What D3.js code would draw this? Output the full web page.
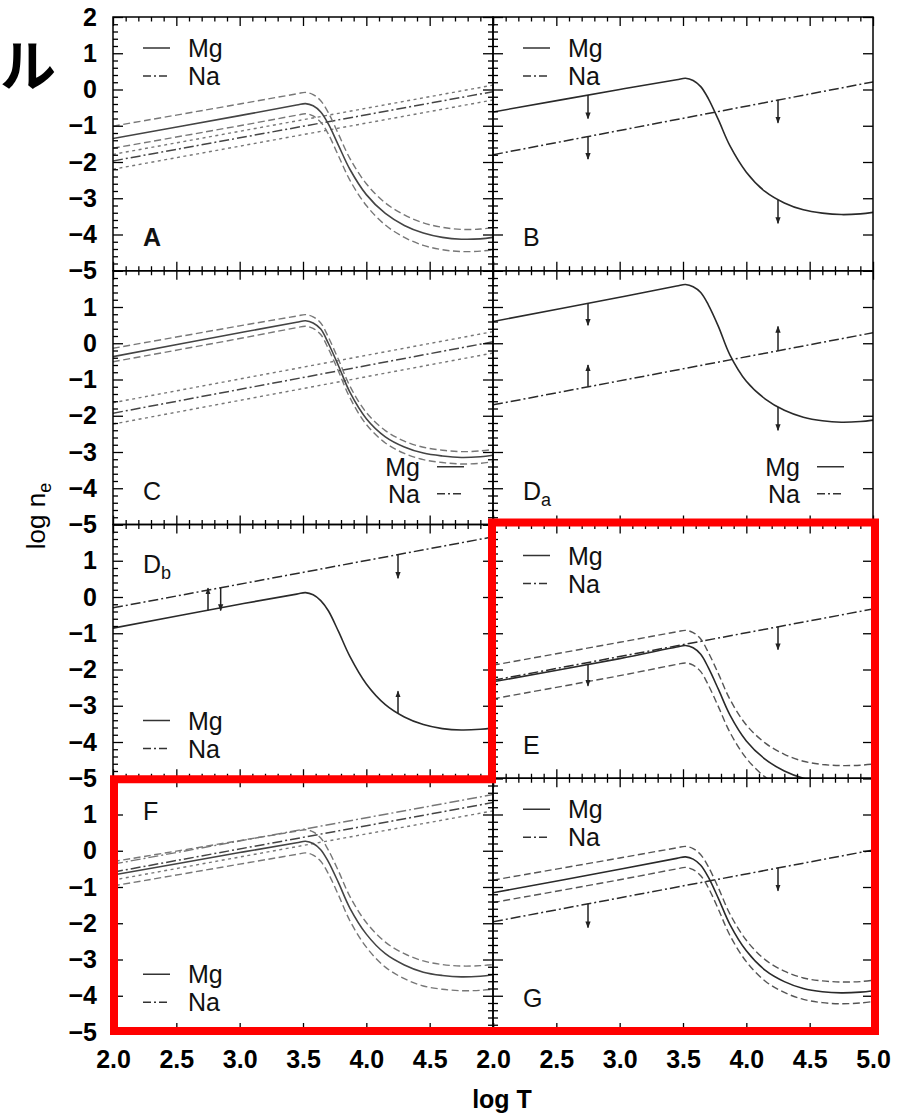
<!DOCTYPE html>
<html>
<head>
<meta charset="utf-8">
<script src="https://cdn.jsdelivr.net/npm/d3@7"></script>
<style>
  body { margin: 0; background: #fff; }
  svg { display: block; font-family: "Liberation Sans", Arial, sans-serif; }
</style>
</head>
<body>
<div id="chart"></div>
<script>
///////////////////////////
// DATA
///////////////////////////

// log T sample points shared by every Mg curve
const logT = [2.0, 3.0, 3.45, 3.52, 3.58, 3.64, 3.7, 3.78, 3.87, 4.0, 4.15, 4.3, 4.45, 4.6, 4.75, 4.9, 5.0];
// Na lines are straight, given at the two ends
const naT = [2.0, 5.0];

const xMajor = [2.0, 2.5, 3.0, 3.5, 4.0, 4.5, 5.0];
const yMajor = [-5, -4, -3, -2, -1, 0, 1, 2];
const xLabelsLeft = [2.0, 2.5, 3.0, 3.5, 4.0, 4.5];
const xLabelsRight = [2.0, 2.5, 3.0, 3.5, 4.0, 4.5, 5.0];
const yLabelsTop = [-5, -4, -3, -2, -1, 0, 1, 2];
const yLabels = [-5, -4, -3, -2, -1, 0, 1];

// panel A
const mgA   = [-1.35, -0.72, -0.43, -0.39, -0.45, -0.62, -0.95, -1.54, -2.2, -2.9, -3.42, -3.75, -3.96, -4.08, -4.13, -4.12, -4.08];
const mgAHi = [-1.01, -0.4, -0.12, -0.08, -0.14, -0.31, -0.64, -1.23, -1.9, -2.6, -3.13, -3.46, -3.68, -3.8, -3.86, -3.85, -3.81];
const mgALo = [-1.62, -1.0, -0.71, -0.67, -0.73, -0.9, -1.23, -1.83, -2.5, -3.2, -3.74, -4.08, -4.3, -4.42, -4.47, -4.46, -4.42];
const naA   = [-1.97, -0.06];
const naAHi = [-1.79, 0.12];
const naALo = [-2.2, -0.29];

// panel B
const mgB = [-0.62, 0.0, 0.27, 0.31, 0.25, 0.08, -0.25, -0.84, -1.55, -2.28, -2.82, -3.13, -3.32, -3.41, -3.45, -3.43, -3.39];
const naB = [-1.8, 0.21];
const arrowsB = [[2.75, -0.15, -0.8], [2.75, -1.3, -1.92], [4.25, -0.28, -0.92], [4.25, -3.05, -3.69]];

// panel C
const mgC   = [-0.37, 0.29, 0.58, 0.62, 0.56, 0.39, 0.0, -0.62, -1.35, -2.08, -2.58, -2.86, -3.03, -3.11, -3.15, -3.13, -3.09];
const mgCHi = [-0.14, 0.48, 0.75, 0.79, 0.73, 0.56, 0.17, -0.45, -1.18, -1.91, -2.41, -2.7, -2.87, -2.95, -2.99, -2.97, -2.93];
const mgCLo = [-0.51, 0.13, 0.43, 0.47, 0.41, 0.24, -0.15, -0.77, -1.5, -2.24, -2.75, -3.04, -3.21, -3.29, -3.33, -3.31, -3.27];
const naC   = [-1.93, 0.04];
const naCHi = [-1.64, 0.32];
const naCLo = [-2.23, -0.27];

// panel Da
const mgDa = [0.6, 1.27, 1.58, 1.62, 1.56, 1.4, 1.06, 0.46, -0.32, -1.05, -1.54, -1.85, -2.04, -2.14, -2.18, -2.16, -2.12];
const naDa = [-1.7, 0.29];
const arrowsDa = [[2.75, 1.1, 0.5], [2.75, -1.2, -0.6], [4.25, -0.21, 0.46], [4.25, -1.76, -2.4]];

// panel Db
const mgDb = [-0.86, -0.2, 0.08, 0.12, 0.06, -0.1, -0.38, -0.95, -1.64, -2.4, -2.97, -3.31, -3.52, -3.63, -3.67, -3.65, -3.61];
const naDb = [-0.3, 1.66];
const arrowsDb = [[2.75, -0.37, 0.24], [2.85, 0.25, -0.37], [4.25, 1.17, 0.52], [4.25, -3.2, -2.6]];

// panel E
const mgE   = [-2.34, -1.7, -1.38, -1.34, -1.4, -1.58, -1.95, -2.55, -3.25, -3.97, -4.48, -4.8, -5.0, -5.1, -5.14, -5.12, -5.08];
const mgEHi = [-1.88, -1.25, -0.96, -0.92, -0.98, -1.16, -1.53, -2.12, -2.82, -3.53, -4.03, -4.34, -4.53, -4.62, -4.65, -4.64, -4.61];
const mgELo = [-2.81, -2.17, -1.86, -1.82, -1.88, -2.06, -2.43, -3.03, -3.73, -4.45, -4.97, -5.28, -5.48, -5.58, -5.62, -5.6, -5.56];
const naE = [-2.3, -0.33];
const arrowsE = [[2.75, -1.85, -2.45], [4.25, -0.82, -1.45]];

// panel F
const mgF   = [-0.67, -0.05, 0.22, 0.26, 0.2, 0.03, -0.3, -0.88, -1.58, -2.3, -2.84, -3.15, -3.35, -3.44, -3.48, -3.46, -3.42];
const mgFHi = [-0.3, 0.28, 0.54, 0.58, 0.52, 0.35, 0.02, -0.56, -1.26, -1.98, -2.52, -2.84, -3.04, -3.14, -3.18, -3.17, -3.14];
const mgFLo = [-0.97, -0.37, -0.1, -0.06, -0.12, -0.29, -0.63, -1.22, -1.93, -2.66, -3.21, -3.53, -3.73, -3.82, -3.86, -3.85, -3.82];
const naF   = [-0.59, 1.33];
const naFHi = [-0.37, 1.55];
const naFLo = [-0.81, 1.10];

// panel G
const mgG   = [-1.16, -0.51, -0.21, -0.17, -0.23, -0.4, -0.73, -1.32, -2.03, -2.76, -3.3, -3.61, -3.8, -3.89, -3.92, -3.9, -3.86];
const mgGHi = [-0.81, -0.2, 0.08, 0.12, 0.06, -0.11, -0.44, -1.03, -1.74, -2.47, -3.01, -3.32, -3.51, -3.59, -3.62, -3.61, -3.57];
const mgGLo = [-1.43, -0.8, -0.5, -0.46, -0.52, -0.69, -1.02, -1.62, -2.33, -3.06, -3.6, -3.91, -4.1, -4.19, -4.22, -4.2, -4.16];
const naG = [-1.96, 0.02];
const arrowsG = [[2.75, -1.46, -2.12], [4.25, -0.47, -1.1]];

const panels = [
    { label: 'A', sub: '', row: 0, col: 0, mg: mgA, mgHi: mgAHi, mgLo: mgALo, na: naA, naHi: naAHi, naLo: naALo, naHiStyle: 'dotted', arrows: [], legend: 'tl', labelAt: 'bottom', bold: true, light: true },
    { label: 'B', sub: '', row: 0, col: 1, mg: mgB, na: naB, arrows: arrowsB, legend: 'tl', labelAt: 'bottom' },
    { label: 'C', sub: '', row: 1, col: 0, mg: mgC, mgHi: mgCHi, mgLo: mgCLo, na: naC, naHi: naCHi, naLo: naCLo, naHiStyle: 'dotted', arrows: [], legend: 'br', labelAt: 'bottom', light: true },
    { label: 'D', sub: 'a', row: 1, col: 1, mg: mgDa, na: naDa, arrows: arrowsDa, legend: 'br', labelAt: 'bottom' },
    { label: 'D', sub: 'b', row: 2, col: 0, mg: mgDb, na: naDb, arrows: arrowsDb, legend: 'bl', labelAt: 'top' },
    { label: 'E', sub: '', row: 2, col: 1, mg: mgE, mgHi: mgEHi, mgLo: mgELo, na: naE, arrows: arrowsE, legend: 'tl', labelAt: 'bottom' },
    { label: 'F', sub: '', row: 3, col: 0, mg: mgF, mgHi: mgFHi, mgLo: mgFLo, na: naF, naHi: naFHi, naLo: naFLo, naHiStyle: 'dashdot', arrows: [], legend: 'bl', labelAt: 'top', light: true },
    { label: 'G', sub: '', row: 3, col: 1, mg: mgG, mgHi: mgGHi, mgLo: mgGLo, na: naG, arrows: arrowsG, legend: 'tl', labelAt: 'bottom' }
];

///////////////////////////
// LAYOUT
///////////////////////////

const left0 = 113;
const top0 = 17;
const pw = 380;
const ph = 253.75;

const dashes = {
    solid: null,
    dashed: '7,3.5',
    dashdot: '10,3,2,3',
    dotted: '3,3.5'
};

const xMinor = d3.range(20, 51).map(d => d / 10).filter(d => Math.round(d * 10) % 5 !== 0);
const yMinor = d3.range(-25, 11).map(d => d / 5).filter(d => Math.round(d * 5) % 5 !== 0);

let svg = d3.select('#chart')
    .append('svg')
    .attr('width', 910)
    .attr('height', 1115);

svg.append('rect').attr('width', 910).attr('height', 1115).attr('fill', '#fff');

svg.append('defs').append('marker')
    .attr('id', 'head')
    .attr('markerUnits', 'userSpaceOnUse')
    .attr('viewBox', '0 0 8 8')
    .attr('refX', 7).attr('refY', 4)
    .attr('markerWidth', 7).attr('markerHeight', 7)
    .attr('orient', 'auto')
    .append('path')
    .attr('d', 'M0,1 L8,4 L0,7 z')
    .attr('fill', '#222');

const cleanAxis = (sel) => {
    sel.select('.domain').remove();
    sel.selectAll('line').attr('stroke', '#000').attr('stroke-width', 1.3);
};

panels.forEach((p, i) => {
    const x0 = left0 + p.col * pw;
    const y0 = top0 + p.row * ph;
    const x = d3.scaleLinear().domain([2, 5]).range([x0, x0 + pw]);
    const y = d3.scaleLinear().domain([-5, 2]).range([y0 + ph, y0]);

    let g = svg.append('g').attr('class', 'panel');

    g.append('clipPath').attr('id', `clip${i}`)
        .append('rect')
        .attr('x', x0).attr('y', y0).attr('width', pw).attr('height', ph);

    let plot = g.append('g').attr('clip-path', `url(#clip${i})`);

    const line = d3.line()
        .x(d => x(d[0]))
        .y(d => y(d[1]))
        .curve(d3.curveCatmullRom.alpha(0.5));

    const draw = (ts, vals, style, color, width) => {
        if (!vals) return;
        plot.append('path')
            .datum(ts.map((t, k) => [t, vals[k]]))
            .attr('d', line)
            .attr('fill', 'none')
            .attr('stroke', color)
            .attr('stroke-width', width)
            .attr('stroke-dasharray', dashes[style]);
    };

    const mainCol = p.light ? '#444' : '#2a2a2a';
    const bandCol = p.light ? '#777' : '#555';

    // Na lines
    draw(naT, p.naHi, p.naHiStyle || 'dotted', bandCol, 1.4);
    draw(naT, p.naLo, 'dotted', bandCol, 1.4);
    draw(naT, p.na, 'dashdot', mainCol, 1.5);
    // Mg curves
    draw(logT, p.mgHi, 'dashed', bandCol, 1.4);
    draw(logT, p.mgLo, 'dashed', bandCol, 1.4);
    draw(logT, p.mg, 'solid', mainCol, 1.6);

    // arrows
    plot.selectAll('.arrow')
        .data(p.arrows)
        .enter().append('line')
        .attr('class', 'arrow')
        .attr('x1', d => x(d[0]))
        .attr('x2', d => x(d[0]))
        .attr('y1', d => y(d[1]))
        .attr('y2', d => y(d[2]))
        .attr('stroke', '#222')
        .attr('stroke-width', 1.5)
        .attr('marker-end', 'url(#head)');

    // frame
    g.append('rect')
        .attr('x', x0).attr('y', y0).attr('width', pw).attr('height', ph)
        .attr('fill', 'none')
        .attr('stroke', '#000')
        .attr('stroke-width', 1.5);

    // ticks, all pointing inward
    g.append('g').attr('transform', `translate(0,${y0 + ph})`)
        .call(d3.axisBottom(x).tickValues(xMajor).tickSize(-9).tickSizeOuter(0).tickFormat(''))
        .call(cleanAxis);
    g.append('g').attr('transform', `translate(0,${y0 + ph})`)
        .call(d3.axisBottom(x).tickValues(xMinor).tickSize(-4.5).tickSizeOuter(0).tickFormat(''))
        .call(cleanAxis);
    g.append('g').attr('transform', `translate(0,${y0})`)
        .call(d3.axisTop(x).tickValues(xMajor).tickSize(-9).tickSizeOuter(0).tickFormat(''))
        .call(cleanAxis);
    g.append('g').attr('transform', `translate(0,${y0})`)
        .call(d3.axisTop(x).tickValues(xMinor).tickSize(-4.5).tickSizeOuter(0).tickFormat(''))
        .call(cleanAxis);
    g.append('g').attr('transform', `translate(${x0},0)`)
        .call(d3.axisLeft(y).tickValues(yMajor).tickSize(-10).tickSizeOuter(0).tickFormat(''))
        .call(cleanAxis);
    g.append('g').attr('transform', `translate(${x0},0)`)
        .call(d3.axisLeft(y).tickValues(yMinor).tickSize(-5).tickSizeOuter(0).tickFormat(''))
        .call(cleanAxis);
    g.append('g').attr('transform', `translate(${x0 + pw},0)`)
        .call(d3.axisRight(y).tickValues(yMajor).tickSize(-10).tickSizeOuter(0).tickFormat(''))
        .call(cleanAxis);
    if (p.col === 0) {
        g.append('g').attr('transform', `translate(${x0 + pw},0)`)
            .call(d3.axisRight(y).tickValues(yMinor).tickSize(-5).tickSizeOuter(0).tickFormat(''))
            .call(cleanAxis);
    }

    // tick labels
    if (p.col === 0) {
        g.append('g').attr('transform', `translate(${x0},0)`)
            .call(d3.axisLeft(y).tickValues(p.row === 0 ? yLabelsTop : yLabels).tickSize(0).tickPadding(16).tickFormat(d3.format('d')))
            .call(s => s.select('.domain').remove())
            .attr('font-family', null)
            .attr('font-size', 25)
            .attr('font-weight', 'bold')
            .selectAll('text').attr('fill', '#000');
    }
    if (p.row === 3) {
        g.append('g').attr('transform', `translate(0,${y0 + ph})`)
            .call(d3.axisBottom(x).tickValues(p.col === 0 ? xLabelsLeft : xLabelsRight).tickSize(0).tickPadding(18).tickFormat(d3.format('.1f')))
            .call(s => s.select('.domain').remove())
            .attr('font-family', null)
            .attr('font-size', 25)
            .attr('font-weight', 'bold')
            .selectAll('text').attr('fill', '#000');
    }

    // panel letter
    let lab = g.append('text')
        .attr('x', x0 + 30)
        .attr('y', p.labelAt === 'top' ? y0 + (p.sub ? 48 : 42) : y0 + 229)
        .attr('font-size', 25)
        .attr('font-weight', p.bold ? 'bold' : 'normal')
        .attr('fill', '#111')
        .text(p.label);
    if (p.sub) {
        lab.append('tspan')
            .attr('font-size', 18)
            .attr('dy', 6)
            .text(p.sub);
    }

    // legend
    let lg = g.append('g').attr('class', 'legend');
    let items = [['Mg', 'solid'], ['Na', 'dashdot']];
    items.forEach((it, k) => {
        let ly, sx1, sx2, tx, anchor;
        if (p.legend === 'tl') { ly = y0 + 31 + k * 28; sx1 = x0 + 30; sx2 = x0 + 57; tx = x0 + 75; anchor = 'start'; }
        if (p.legend === 'bl') { ly = y0 + 196 + k * 28; sx1 = x0 + 30; sx2 = x0 + 57; tx = x0 + 75; anchor = 'start'; }
        if (p.legend === 'br') { ly = y0 + 196 + k * 27; sx1 = x0 + 324; sx2 = x0 + 351; tx = x0 + 307; anchor = 'end'; }
        lg.append('line')
            .attr('x1', sx1).attr('x2', sx2)
            .attr('y1', ly).attr('y2', ly)
            .attr('stroke', '#333')
            .attr('stroke-width', 1.5)
            .attr('stroke-dasharray', it[1] === 'dashdot' ? '8,3,2,3' : null);
        lg.append('text')
            .attr('x', tx)
            .attr('y', ly + 9)
            .attr('text-anchor', anchor)
            .attr('font-size', 25)
            .attr('fill', '#111')
            .text(it[0]);
    });
});

///////////////////////////
// AXIS TITLES
///////////////////////////

svg.append('text')
    .attr('x', 502)
    .attr('y', 1108)
    .attr('text-anchor', 'middle')
    .attr('font-size', 25)
    .attr('font-weight', 'bold')
    .text('log T');

let ylab = svg.append('text')
    .attr('transform', 'translate(45,516) rotate(-90)')
    .attr('text-anchor', 'middle')
    .attr('font-size', 26)
    .text('log n');
ylab.append('tspan').attr('font-size', 18).attr('dy', 6).text('e');

// cut-off title character at the top left
svg.append('text')
    .attr('x', 0)
    .attr('y', 86)
    .attr('font-family', '"Noto Sans CJK JP", sans-serif')
    .attr('font-weight', 'bold')
    .attr('font-size', 56)
    .text('ル');

///////////////////////////
// RED HIGHLIGHT
///////////////////////////

const hl = [
    [left0 + 1, top0 + 4 * ph - 1],
    [left0 + 1, top0 + 3 * ph + 1],
    [left0 + pw - 1, top0 + 3 * ph + 1],
    [left0 + pw - 1, top0 + 2 * ph - 2],
    [left0 + 2 * pw + 2, top0 + 2 * ph - 2],
    [left0 + 2 * pw + 2, top0 + 4 * ph - 1]
];

svg.append('path')
    .attr('d', d3.line()(hl) + 'Z')
    .attr('fill', 'none')
    .attr('stroke', '#ff0000')
    .attr('stroke-width', 8)
    .attr('stroke-linejoin', 'miter');
</script>
</body>
</html>
